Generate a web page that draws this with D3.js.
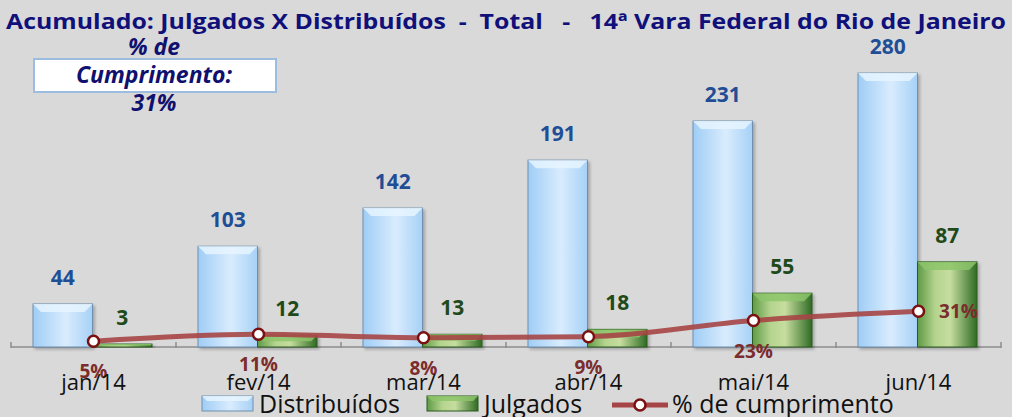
<!DOCTYPE html>
<html>
<head>
<meta charset="utf-8">
<script src="https://cdn.jsdelivr.net/npm/d3@7"></script>
<style>
  body { margin: 0; background: #d9d9d9; }
  svg { display: block; font-family: "Open Sans", Lato, sans-serif; }
</style>
</head>
<body>
<svg id="chart" width="1012" height="417"></svg>
<script>
// Data
const months = ["jan/14", "fev/14", "mar/14", "abr/14", "mai/14", "jun/14"];
const distribuidos = [44, 103, 142, 191, 231, 280];
const julgados = [3, 12, 13, 18, 55, 87];
const cumprimento = [0.05, 0.11, 0.08, 0.09, 0.23, 0.31];
const seriesNames = ["Distribuídos", "Julgados"];

const svg = d3.select("#chart");
const baseY = 347;

// Scales
const x = d3.scaleBand().domain(months).range([11, 1001]).padding(0);
const x1 = d3.scaleBand().domain(seriesNames).range([22, 141]).padding(0);
const y = d3.scaleLinear().domain([0, 300]).range([baseY, baseY - 293.5]);
const y2 = d3.scaleLinear().domain([0, 1]).range([baseY, baseY - 115]);

// Gradients
const defs = svg.append("defs");
function hGrad(id, stops) {
    const g = defs.append("linearGradient").attr("id", id)
        .attr("x1", "0").attr("x2", "1").attr("y1", "0").attr("y2", "0");
    stops.forEach(s => g.append("stop").attr("offset", s[0]).attr("stop-color", s[1]));
}
hGrad("gBlue", [[0, "#9fcdf6"], [0.55, "#d9ecfd"], [1, "#a6d1f7"]]);
hGrad("gGreen", [[0, "#5e9a45"], [0.3, "#b5d48e"], [0.55, "#c6dd9f"], [1, "#2f6b24"]]);
const sh = defs.append("filter").attr("id", "shadow").attr("x", "-20%").attr("y", "-20%").attr("width", "150%").attr("height", "150%");
sh.append("feDropShadow").attr("dx", 2).attr("dy", 2).attr("stdDeviation", 1.5).attr("flood-color", "#000").attr("flood-opacity", 0.25);

const colors = {
    "Distribuídos": { fill: "url(#gBlue)", stroke: "#6f8fae", top: "#e6f4ff", label: "#1f4e96" },
    "Julgados": { fill: "url(#gGreen)", stroke: "#2a5a1e", top: "#8cc46a", label: "#1f4a1a" }
};

// Axis line and ticks
svg.append("line").attr("x1", 11).attr("x2", 1001).attr("y1", baseY).attr("y2", baseY)
    .attr("stroke", "#8c8c8c").attr("stroke-width", 1.5);
svg.selectAll(".tick").data(months.concat(["end"])).enter().append("line")
    .attr("x1", (d, i) => i < months.length ? x(d) : x.range()[1])
    .attr("x2", (d, i) => i < months.length ? x(d) : x.range()[1])
    .attr("y1", baseY - 5).attr("y2", baseY + 1)
    .attr("stroke", "#8c8c8c").attr("stroke-width", 1.5);

// Bars
const rows = months.map((m, i) => ({ month: m, values: [
    { key: "Distribuídos", value: distribuidos[i] },
    { key: "Julgados", value: julgados[i] }
]}));

const groups = svg.selectAll(".grp").data(rows).enter().append("g")
    .attr("transform", d => "translate(" + x(d.month) + ",0)");

groups.selectAll(".bar").data(d => d.values).enter().each(function (d) {
    const g = d3.select(this).append("g").attr("class", "bar");
    const bx = x1(d.key), bw = x1.bandwidth();
    const top = y(d.value), h = baseY - top;
    const c = colors[d.key];
    g.append("rect").attr("x", bx).attr("y", top).attr("width", bw).attr("height", h)
        .attr("fill", c.fill).attr("stroke", c.stroke).attr("stroke-width", 1)
        .attr("filter", "url(#shadow)");
    const bev = Math.min(8, h / 2);
    g.append("polygon")
        .attr("points", [[bx, top], [bx + bw, top], [bx + bw - bev, top + bev], [bx + bev, top + bev]].map(p => p.join(",")).join(" "))
        .attr("fill", c.top).attr("opacity", 0.85);
    d3.select(this).append("text")
        .attr("x", bx + bw / 2).attr("y", top - 19)
        .attr("text-anchor", "middle")
        .attr("font-size", 21).attr("font-weight", "bold")
        .attr("fill", c.label)
        .text(d.value);
});

// Line
const line = d3.line()
    .x((d, i) => x(months[i]) + x.bandwidth() / 2)
    .y(d => y2(d))
    .curve(d3.curveMonotoneX);
svg.append("path").datum(cumprimento).attr("d", line)
    .attr("fill", "none").attr("stroke", "#a64545").attr("stroke-opacity", 0.9)
    .attr("stroke-width", 5);
svg.selectAll(".pt").data(cumprimento).enter().append("circle")
    .attr("cx", (d, i) => x(months[i]) + x.bandwidth() / 2)
    .attr("cy", d => y2(d))
    .attr("r", 5.5)
    .attr("fill", "#ffffff").attr("stroke", "#7a1010").attr("stroke-width", 2.5);
svg.selectAll(".pct").data(cumprimento).enter().append("text")
    .attr("x", (d, i) => x(months[i]) + x.bandwidth() / 2 + (i === months.length - 1 ? 40 : 0))
    .attr("y", (d, i) => y2(d) + (i === months.length - 1 ? 7 : 37))
    .attr("text-anchor", "middle")
    .attr("font-size", 19).attr("font-weight", "bold")
    .attr("fill", "#7b2c2c")
    .text(d => Math.round(d * 100) + "%");

// Category labels
svg.selectAll(".cat").data(months).enter().append("text")
    .attr("x", d => x(d) + x.bandwidth() / 2)
    .attr("y", 390)
    .attr("text-anchor", "middle")
    .attr("font-size", 22).attr("fill", "#111")
    .text(d => d);

// Title
svg.append("text").attr("x", 6).attr("y", 29)
    .attr("font-size", 22).attr("font-weight", "bold").attr("fill", "#10107a")
    .attr("textLength", 1000).attr("lengthAdjust", "spacingAndGlyphs")
    .style("white-space", "pre")
    .text("Acumulado: Julgados X Distribuídos  -  Total   -   14ª Vara Federal do Rio de Janeiro");

// Box with compliance
svg.append("rect").attr("x", 34).attr("y", 59).attr("width", 242).attr("height", 33)
    .attr("fill", "#ffffff").attr("stroke", "#9dbde0").attr("stroke-width", 2);
const boxLines = ["% de", "Cumprimento:", Math.round(cumprimento[cumprimento.length - 1] * 100) + "%"];
svg.selectAll(".box").data(boxLines).enter().append("text")
    .attr("x", 154).attr("y", (d, i) => 55 + i * 28)
    .attr("text-anchor", "middle")
    .attr("font-size", 23).attr("font-weight", "bold").attr("font-style", "italic")
    .attr("fill", "#10106e")
    .text(d => d);

// Legend
const legend = svg.append("g");
seriesNames.forEach((s, i) => {
    const lx = [202, 427][i];
    legend.append("rect").attr("x", lx).attr("y", 396).attr("width", 51).attr("height", 15)
        .attr("fill", colors[s].fill).attr("stroke", colors[s].stroke);
    legend.append("polygon")
        .attr("points", [[lx, 396], [lx + 51, 396], [lx + 46, 401], [lx + 5, 401]].map(p => p.join(",")).join(" "))
        .attr("fill", colors[s].top).attr("opacity", 0.85);
    legend.append("text").attr("x", lx + 57).attr("y", 413)
        .attr("font-size", 25).attr("fill", "#111").text(s);
});
legend.append("line").attr("x1", 612).attr("x2", 668).attr("y1", 405).attr("y2", 405)
    .attr("stroke", "#a64545").attr("stroke-width", 5);
legend.append("circle").attr("cx", 640).attr("cy", 405).attr("r", 5.5)
    .attr("fill", "#fff").attr("stroke", "#7a1010").attr("stroke-width", 2.5);
legend.append("text").attr("x", 672).attr("y", 413)
    .attr("font-size", 25).attr("fill", "#111").text("% de cumprimento");
</script>
</body>
</html>
